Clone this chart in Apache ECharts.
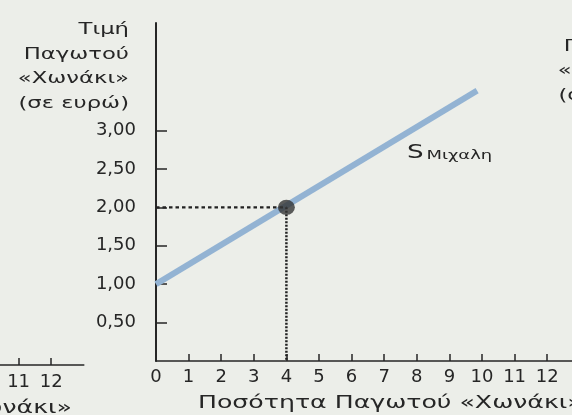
<!DOCTYPE html>
<html>
<head>
<meta charset="utf-8">
<script src="https://cdn.jsdelivr.net/npm/echarts@6/dist/echarts.min.js"></script>
<style>
html,body{margin:0;padding:0;background:#eceee9;}
#chart{width:572px;height:415px;}
</style>
</head>
<body>
<div id="chart"></div>
<script>
// ---- data ----
var supplyQuantity = [0, 9.85];
var supplyPrice = [1.00, 3.52];
var equilibriumQ = 4;
var equilibriumP = 2.00;
var xTickValues = [0,1,2,3,4,5,6,7,8,9,10,11,12];
var yTickValues = [0.5, 1.0, 1.5, 2.0, 2.5, 3.0];
var seriesLabelPos = [7.7, 2.72];
var seriesName = 'S';
var seriesSub = 'Μιχαλη';
var yTitle = 'Τιμή\nΠαγωτού\n«Χωνάκι»\n(σε ευρώ)';
var xTitle = 'Ποσότητα Παγωτού «Χωνάκι»';

var FONT = 'DejaVu Sans';
var INK = '#262626';

var chart = echarts.init(document.getElementById('chart'), null, {renderer: 'canvas'});

var supplyData = supplyQuantity.map(function (q, i) { return [q, supplyPrice[i]]; });

var option = {
  backgroundColor: '#eceee9',
  animation: false,
  grid: [
    {left: 156, width: 423.8, top: 23, bottom: 54, containLabel: false, outerBoundsMode: 'none'},
    {left: -340, width: 423.8, top: 23, bottom: 50, containLabel: false, outerBoundsMode: 'none'}
  ],
  xAxis: [
    {
      type: 'value', gridIndex: 0, min: 0, max: 13, interval: 1,
      axisLine: {show: true, onZero: false, lineStyle: {color: INK, width: 1.5}},
      axisTick: {show: true, inside: true, length: 7, customValues: xTickValues.slice(1), lineStyle: {color: INK, width: 1.5}},
      axisLabel: {customValues: xTickValues, fontFamily: FONT, fontSize: 18, color: INK, margin: 7},
      splitLine: {show: false}
    },
    {
      type: 'value', gridIndex: 1, min: 0, max: 13, interval: 1,
      axisLine: {show: true, onZero: false, lineStyle: {color: INK, width: 1.5}},
      axisTick: {show: true, inside: true, length: 7, customValues: xTickValues.slice(1), lineStyle: {color: INK, width: 1.5}},
      axisLabel: {customValues: xTickValues, fontFamily: FONT, fontSize: 18, color: INK, margin: 8},
      splitLine: {show: false}
    }
  ],
  yAxis: [
    {
      type: 'value', gridIndex: 0, min: 0, max: 4.4,
      axisLine: {show: true, onZero: false, lineStyle: {color: INK, width: 2}},
      axisTick: {show: true, inside: true, length: 11, customValues: yTickValues, lineStyle: {color: INK, width: 1.5}},
      axisLabel: {
        customValues: yTickValues, fontFamily: FONT, fontSize: 18, color: INK, margin: 20,
        formatter: function (v) { return v.toFixed(2).replace('.', ','); }
      },
      splitLine: {show: false}
    },
    {type: 'value', gridIndex: 1, min: 0, max: 4.4, show: false}
  ],
  series: [
    {
      name: 'supply', type: 'line', xAxisIndex: 0, yAxisIndex: 0,
      data: supplyData, showSymbol: false, symbol: 'none', z: 2,
      lineStyle: {color: '#93b3d3', width: 6, cap: 'butt'}
    },
    {
      name: 'guideH', type: 'line', xAxisIndex: 0, yAxisIndex: 0,
      data: [[0, equilibriumP], [equilibriumQ, equilibriumP]], symbol: 'none', z: 3,
      lineStyle: {color: '#222', width: 2.2, type: [3.5, 3]}
    },
    {
      name: 'guideV', type: 'line', xAxisIndex: 0, yAxisIndex: 0,
      data: [[equilibriumQ, equilibriumP], [equilibriumQ, 0]], symbol: 'none', z: 3,
      lineStyle: {color: '#222', width: 2.5, type: [2, 1.5]}
    },
    {
      name: 'equilibrium', type: 'scatter', xAxisIndex: 0, yAxisIndex: 0,
      data: [[equilibriumQ, equilibriumP]], symbol: 'circle', symbolSize: [17, 15], z: 4,
      itemStyle: {color: '#353535'}
    }
  ],
  graphic: []
};

chart.setOption(option);

var lp = chart.convertToPixel({gridIndex: 0}, seriesLabelPos);

chart.setOption({
  graphic: [
    {
      type: 'text', x: 129, y: 18, scaleX: 1.42, silent: true,
      style: {text: yTitle, align: 'right', verticalAlign: 'top', font: '16px "DejaVu Sans"', lineHeight: 24.5, fill: INK}
    },
    {
      type: 'text', x: 669, y: 10, scaleX: 1.42, silent: true,
      style: {text: yTitle, align: 'right', verticalAlign: 'top', font: '16px "DejaVu Sans"', lineHeight: 24.5, fill: INK}
    },
    {
      type: 'text', x: 198, y: 403, scaleX: 1.4, silent: true,
      style: {text: xTitle, align: 'left', verticalAlign: 'middle', font: '18px "DejaVu Sans"', fill: INK}
    },
    {
      type: 'text', x: 72, y: 408, scaleX: 1.4, silent: true,
      style: {text: xTitle, align: 'right', verticalAlign: 'middle', font: '18px "DejaVu Sans"', fill: INK}
    },
    {
      type: 'text', x: lp[0], y: lp[1], scaleX: 1.38, silent: true,
      style: {
        text: '{s|' + seriesName + '}{sub|' + seriesSub + '}',
        align: 'left', verticalAlign: 'middle',
        rich: {
          s: {fontFamily: FONT, fontSize: 19, fill: INK, verticalAlign: 'bottom'},
          sub: {fontFamily: FONT, fontSize: 13, fill: INK, padding: [8, 0, 0, 2]}
        }
      }
    }
  ]
});
</script>
</body>
</html>
